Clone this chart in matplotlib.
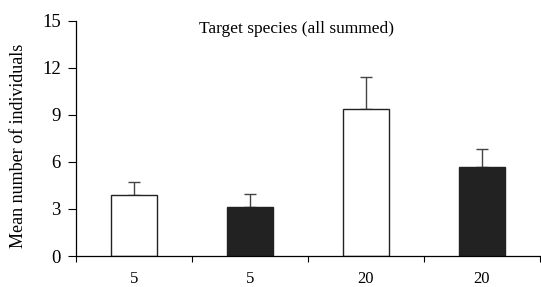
import numpy as np
import matplotlib.pyplot as plt

plt.rcParams['font.family'] = ['Liberation Serif', 'DejaVu Serif']

labels = ["5", "5", "20", "20"]
means = [3.88, 3.12, 9.36, 5.67]
errors = [0.82, 0.84, 2.04, 1.17]
fills = ["white", "#222222", "white", "#222222"]

fig = plt.figure(figsize=(5.41, 2.87), dpi=100)
ax = fig.add_axes([0.1405, 0.108, 0.857, 0.819])

x = np.arange(len(means))
ax.bar(x, means, width=0.4, color=fills, edgecolor="#222222", linewidth=1.0, zorder=2)
ax.errorbar(x, means, yerr=[np.zeros(len(errors)), errors], fmt="none",
            ecolor="#444444", elinewidth=1.0, capsize=4, capthick=1.0, zorder=1)

ax.set_xlim(-0.5, 3.5)
ax.set_ylim(0, 15)
ax.set_yticks([0, 3, 6, 9, 12, 15])
ax.set_xticks(np.arange(-0.5, 4, 1))
ax.set_xticklabels([])
ax.set_xticks(x, minor=True)
ax.set_xticklabels(labels, minor=True)
ax.tick_params(axis="x", which="minor", length=0, pad=10.5, labelsize=12)
ax.tick_params(axis="x", which="major", length=4, direction="out", width=0.8)
ax.tick_params(axis="y", length=6, direction="out", width=0.8, labelsize=13.5, pad=5)

for s in ["top", "right"]:
    ax.spines[s].set_visible(False)
ax.spines["left"].set_linewidth(0.9)
ax.spines["bottom"].set_linewidth(0.9)

ax.set_ylabel("Mean number of individuals", fontsize=13)
ax.yaxis.set_label_coords(-0.105, 0.468)
ax.text(1.4, 14.5, "Target species (all summed)", ha="center", va="center", fontsize=12.5)

fig.savefig("out.png", dpi=100)
